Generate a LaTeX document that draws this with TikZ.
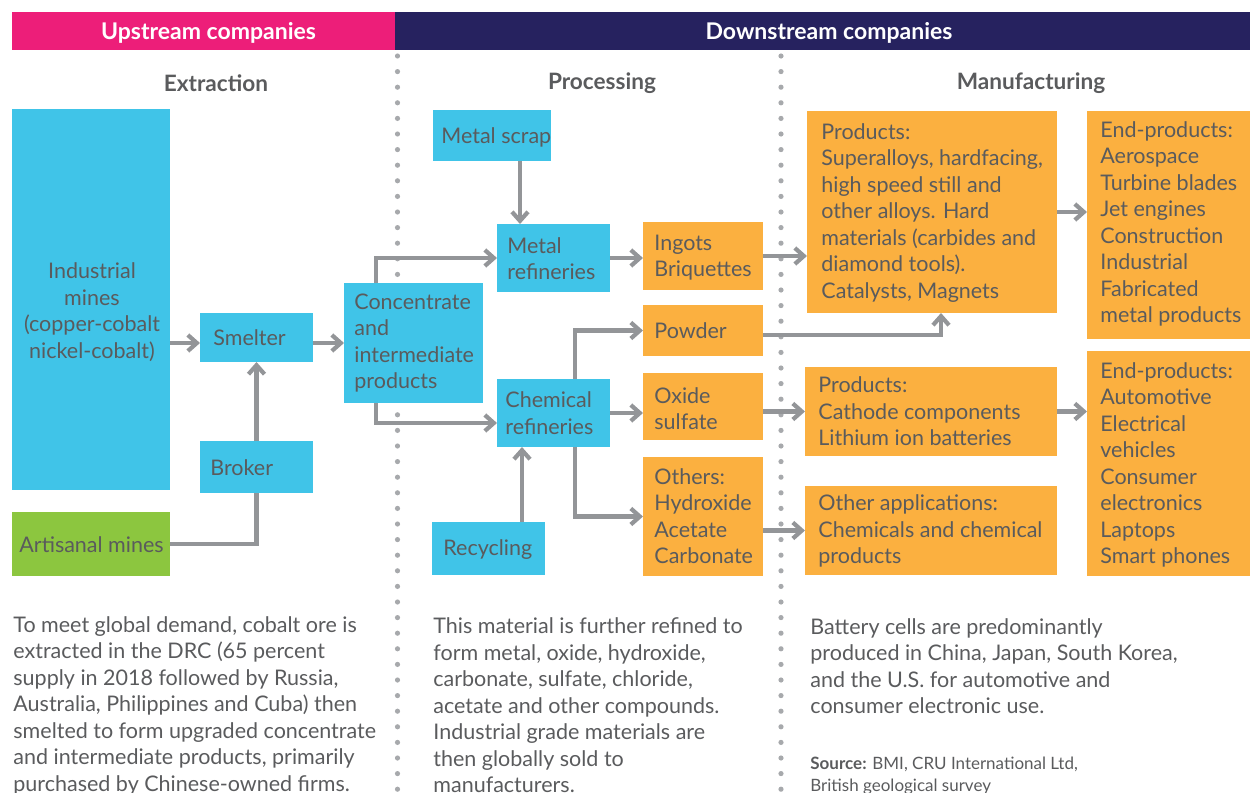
\documentclass[tikz,border=0pt]{standalone}
\usepackage{fontspec}
\setmainfont{Lato}
\usetikzlibrary{arrows.meta,fit,calc}
\definecolor{cpink}{HTML}{ED1E79}
\definecolor{cnavy}{HTML}{26225F}
\definecolor{cblue}{HTML}{40C4E8}
\definecolor{corange}{HTML}{FBB040}
\definecolor{cgreen}{HTML}{8CC63F}
\definecolor{carrow}{HTML}{939598}
\definecolor{tgray}{HTML}{5A5B5D}
\definecolor{cdot}{HTML}{A7A9AC}
\begin{document}
\begin{tikzpicture}[x=0.5pt,y=-0.5pt,
  box/.style={inner sep=0pt,outer sep=0pt,draw=none},
  bluebox/.style={box,fill=cblue},
  orangebox/.style={box,fill=corange},
  greenbox/.style={box,fill=cgreen},
  txt/.style={anchor=west,inner sep=0pt,text=tgray,align=left,font=\fontsize{10.75}{13.25}\selectfont},
  ctxt/.style={txt,anchor=center,align=center},
  head/.style={inner sep=0pt,text=white,font=\bfseries\fontsize{11.5}{13}\selectfont},
  sect/.style={inner sep=0pt,text=tgray,font=\bfseries\fontsize{11.3}{13}\selectfont},
  arr/.style={draw=carrow,line width=2.1pt,-{Straight Barb[length=4.5pt,width=8pt,line width=2.1pt]}},
  plain/.style={draw=carrow,line width=2.1pt},
  dotline/.style={draw=cdot,line width=2.6pt,line cap=round,dash pattern=on 0pt off 7.8pt}
]
\useasboundingbox (0,0) rectangle (1250,793);

% headers
\node[box,fill=cpink,fit={(12,12) (395,50)}] (uphead) {};
\node[box,fill=cnavy,fit={(395,12) (1250,50)}] (downhead) {};
\node[head] (uptxt) at (208.5,33) {Upstream companies};
\node[head] (downtxt) at (829,33) {Downstream companies};

% dotted separators
\coordinate (d1t) at (397.5,56);
\coordinate (d1b) at (397.5,793);
\coordinate (d2t) at (781,56);
\coordinate (d2b) at (781,793);
\draw[dotline] (d1t) -- (d1b);
\draw[dotline] (d2t) -- (d2b);

% section titles
\node[sect] (sExt) at (216,83) {Extraction};
\node[sect] (sProc) at (602,83) {Processing};
\node[sect] (sMan) at (1031,83) {Manufacturing};

% extraction boxes
\node[bluebox,fit={(12,109) (170,490)}] (mines) {};
\node[ctxt] (tmines) at (92,312) {Industrial\\mines\\(copper-cobalt\\nickel-cobalt)};
\node[bluebox,fit={(200,313) (313,362)}] (smelter) {};
\node[txt] (tsmelter) at (213,338) {Smelter};
\node[bluebox,fit={(200,441) (313,493)}] (broker) {};
\node[txt] (tbroker) at (210,468) {Broker};
\node[greenbox,fit={(12,512) (170,576)}] (art) {};
\node[txt] (tart) at (19,545) {Artisanal mines};

% processing boxes
\node[bluebox,fit={(344,283) (483,403)}] (conc) {};
\node[txt] (tconc) at (354,343) {Concentrate\\and\\intermediate\\products};
\node[bluebox,fit={(433,110) (551,161)}] (scrap) {};
\node[txt] (tscrap) at (441,137) {Metal scrap};
\node[bluebox,fit={(497,224) (610,292)}] (metal) {};
\node[txt] (tmetal) at (507,258.5) {Metal\\refineries};
\node[bluebox,fit={(497,379) (610,447)}] (chem) {};
\node[txt] (tchem) at (505,413) {Chemical\\refineries};
\node[bluebox,fit={(432,522) (545,575)}] (recyc) {};
\node[txt] (trecyc) at (443,550) {Recycling};

\node[orangebox,fit={(643,222) (763,290)}] (ingots) {};
\node[txt] (tingots) at (654,257.5) {Ingots\\Briquettes};
\node[orangebox,fit={(643,305) (763,356)}] (powder) {};
\node[txt] (tpowder) at (654,331) {Powder};
\node[orangebox,fit={(643,373) (763,440)}] (oxide) {};
\node[txt] (toxide) at (654,408.5) {Oxide\\sulfate};
\node[orangebox,fit={(643,457) (763,576)}] (others) {};
\node[txt] (tothers) at (654,516) {Others:\\Hydroxide\\Acetate\\Carbonate};

% manufacturing boxes
\node[orangebox,fit={(807,111) (1057,313)}] (prod) {};
\node[txt] (tprod) at (821,213) {Products:\\Superalloys, hardfacing,\\high speed still and\\other alloys. Hard\\materials (carbides and\\diamond tools).\\Catalysts, Magnets};
\node[orangebox,fit={(1087,111) (1250,339)}] (endA) {};
\node[txt] (tendA) at (1100,224) {End-products:\\Aerospace\\Turbine blades\\Jet engines\\Construction\\Industrial\\Fabricated\\metal products};
\node[orangebox,fit={(805,367) (1057,456)}] (cath) {};
\node[txt] (tcath) at (818,411.5) {Products:\\Cathode components\\Lithium ion batteries};
\node[orangebox,fit={(805,486) (1057,575)}] (oapp) {};
\node[txt] (toapp) at (818,531) {Other applications:\\Chemicals and chemical\\products};
\node[orangebox,fit={(1087,351) (1250,576)}] (endB) {};
\node[txt] (tendB) at (1100,465) {End-products:\\Automotive\\Electrical\\vehicles\\Consumer\\electronics\\Laptops\\Smart phones};

% connectors
\coordinate (cx1) at (376,0);
\coordinate (sx) at (520,0);
\coordinate (rx) at (522,0);
\coordinate (cx2) at (575,0);
\coordinate (px) at (941,0);
\coordinate (ay) at (0,343);
\coordinate (chy) at (0,423);
\coordinate (pwy) at (0,335);

\draw[arr] (mines.east |- ay) -- (smelter.west |- ay);
\draw[arr] (smelter.east |- ay) -- (conc.west |- ay);
\draw[plain] (art.east) -| (broker.south);
\draw[arr] (broker.north) -- (smelter.south);
\draw[arr] (conc.north -| cx1) |- (metal.west);
\draw[arr] (conc.south -| cx1) |- (chem.west |- chy);
\draw[arr] (scrap.south -| sx) -- (metal.north -| sx);
\draw[arr] (recyc.north -| rx) -- (chem.south -| rx);
\draw[arr] (metal.east) -- (metal.east -| ingots.west);
\draw[arr] (chem.north -| cx2) |- (powder.west);
\draw[arr] (chem.east) -- (chem.east -| oxide.west);
\draw[arr] (chem.south -| cx2) |- (others.west);
\draw[arr] (ingots.east) -- (ingots.east -| prod.west);
\draw[arr] (powder.east |- pwy) -| (prod.south -| px);
\draw[arr] (cath.west -| oxide.east) -- (cath.west);
\draw[arr] (oapp.west -| others.east) -- (oapp.west);
\draw[arr] (prod.east) -- (prod.east -| endA.west);
\draw[arr] (cath.east) -- (cath.east -| endB.west);

% bottom texts
\node[txt] (noteA) at (13,705.5) {To meet global demand, cobalt ore is\\extracted in the DRC (65 percent\\supply in 2018 followed by Russia,\\Australia, Philippines and Cuba) then\\smelted to form upgraded concentrate\\and intermediate products, primarily\\purchased by Chinese-owned firms.};
\node[txt] (noteB) at (433,705.5) {This material is further refined to\\form metal, oxide, hydroxide,\\carbonate, sulfate, chloride,\\acetate and other compounds.\\Industrial grade materials are\\then globally sold to\\manufacturers.};
\node[txt] (noteC) at (810,666) {Battery cells are predominantly\\produced in China, Japan, South Korea,\\and the U.S. for automotive and\\consumer electronic use.};
\node[txt,font=\fontsize{8.5}{11}\selectfont] (src) at (810,776) {\textbf{Source:} BMI, CRU International Ltd,\\British geological survey};
\end{tikzpicture}
\end{document}
